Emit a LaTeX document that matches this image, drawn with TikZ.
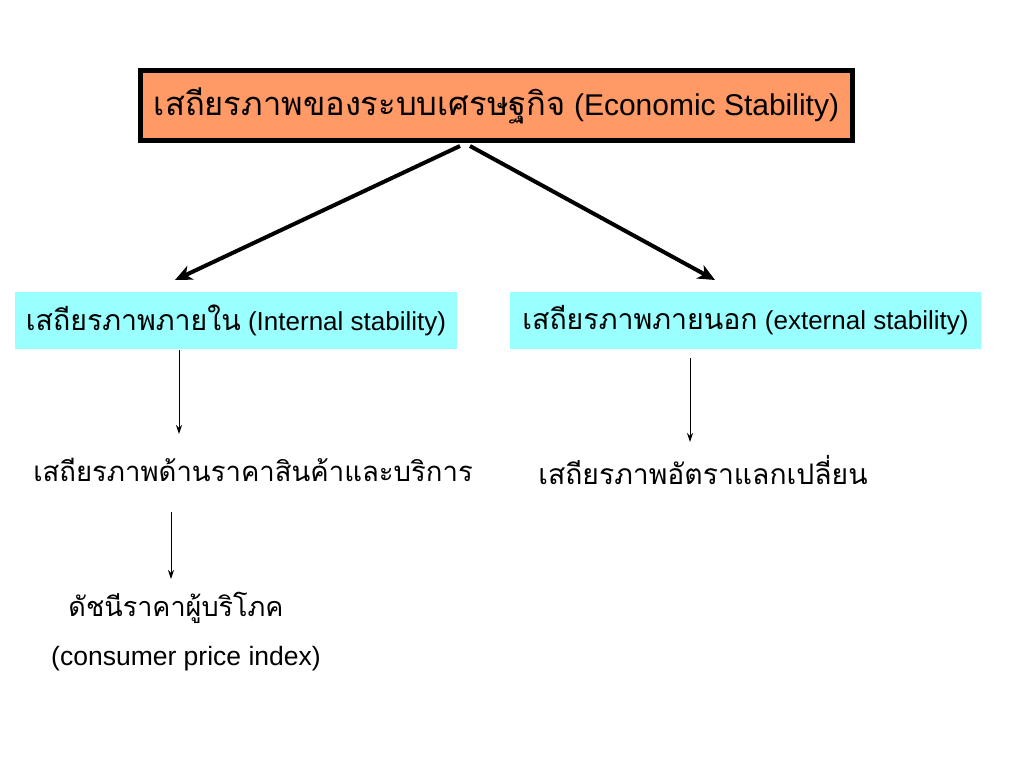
\documentclass[tikz,border=0pt]{standalone}
\usepackage{fontspec}
\setmainfont{Liberation Sans}
\newfontfamily\thai[Script=Thai]{Loma}
\usetikzlibrary{arrows.meta}
\definecolor{topfill}{HTML}{FF9966}
\definecolor{boxfill}{HTML}{99FFFF}
\newcommand{\thaitxt}[2]{{\fontsize{#1}{#1}\selectfont\thai #2}}
\tikzset{
  topbox/.style={draw=black, line width=5pt, fill=topfill, minimum width=712pt, minimum height=70pt, inner sep=0pt, font=\fontsize{30}{32}\selectfont},
  cyanbox/.style={fill=boxfill, minimum height=57pt, inner sep=0pt, font=\fontsize{26}{28}\selectfont},
  plain/.style={inner sep=0pt},
  eng/.style={inner sep=0pt, font=\fontsize{26.5}{28}\selectfont},
  bigarrow/.style={line width=4pt, -{Stealth[length=17pt, width=15pt, inset=5pt]}},
  thinarrow/.style={line width=1pt, -{Stealth[length=9pt, width=6pt]}}
}
\begin{document}
\begin{tikzpicture}[x=1pt, y=-1pt]
\useasboundingbox (0,0) rectangle (1024,768);
\node[topbox] (top) at (496.5,105.5) {\thaitxt{32.7}{เสถียรภาพของระบบเศรษฐกิจ} (Economic Stability)};
\node[cyanbox, minimum width=442pt] (int) at (236,320.5) {\thaitxt{28.5}{เสถียรภาพภายใน} (Internal stability)};
\node[cyanbox, minimum width=471pt] (ext) at (745.5,320.5) {\thaitxt{28.5}{เสถียรภาพภายนอก} (external stability)};
\node[plain] (price) at (253,470) {\thaitxt{27.5}{เสถียรภาพด้านราคาสินค้าและบริการ}};
\node[plain] (fx) at (703,470) {\thaitxt{28.3}{เสถียรภาพอัตราแลกเปลี่ยน}};
\node[plain] (cpi) at (176,608) {\thaitxt{27}{ดัชนีราคาผู้บริโภค}};
\node[eng] (cpien) at (186,659) {(consumer price index)};
% connector end points
\coordinate (a1s) at (460,146);
\coordinate (a1e) at (175,280);
\coordinate (a2s) at (470,146);
\coordinate (a2e) at (715,280);
\coordinate (b1s) at (179,350);
\coordinate (b1e) at (179,434);
\coordinate (b2s) at (690,358);
\coordinate (b2e) at (690,442);
\coordinate (b3s) at (171,512);
\coordinate (b3e) at (171,579);
\draw[bigarrow] (a1s) -- (a1e);
\draw[bigarrow] (a2s) -- (a2e);
\draw[thinarrow] (b1s) -- (b1e);
\draw[thinarrow] (b2s) -- (b2e);
\draw[thinarrow] (b3s) -- (b3e);
\end{tikzpicture}
\end{document}
